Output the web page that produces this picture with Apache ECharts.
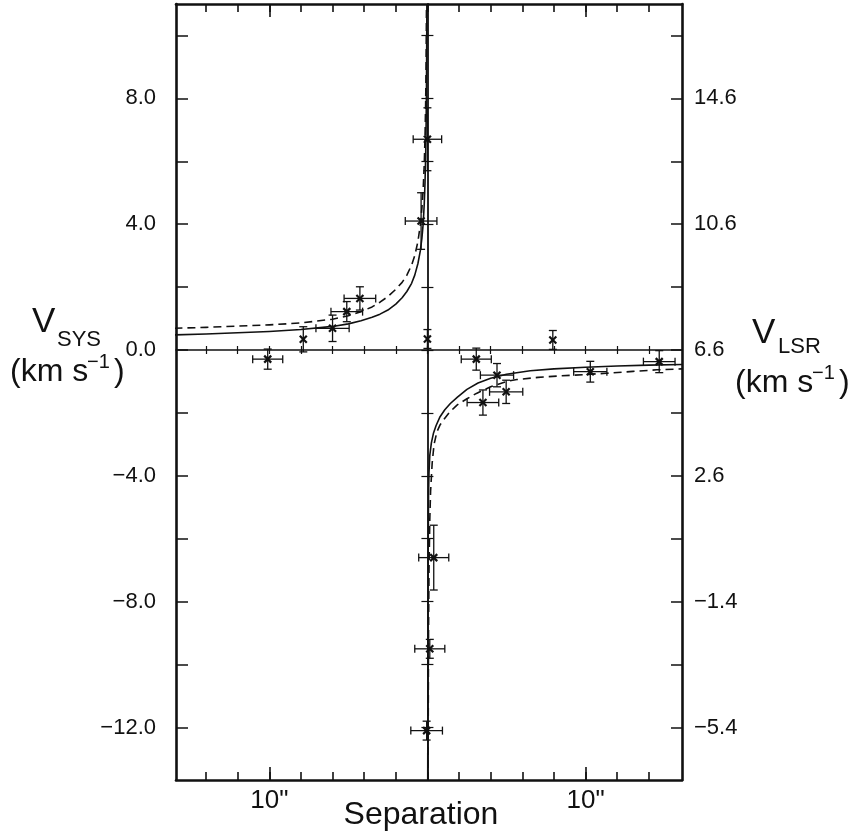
<!DOCTYPE html>
<html>
<head>
<meta charset="utf-8">
<script src="https://cdn.jsdelivr.net/npm/echarts@6/dist/echarts.min.js"></script>
<style>
  html, body { margin: 0; padding: 0; background: #fff; }
  #chart { width: 856px; height: 838px; }
</style>
</head>
<body>
<div id="chart"></div>
<script>
// Measured spots: separation (arcsec), systemic velocity (km/s) and their errors
const spotSep    = [-10.1, -7.85, -6.0, -5.1, -4.27, 0.0, -0.4, 0.0, 3.09, 4.4, 4.98, 3.51, 7.93, 10.3, 14.66, 0.4, 0.15, -0.05];
const spotVel    = [-0.29, 0.34, 0.69, 1.22, 1.64, 0.35, 4.1, 6.7, -0.29, -0.8, -1.33, -1.67, 0.32, -0.69, -0.37, -6.6, -9.5, -12.1];
const spotSepErr = [0.95, 0, 1.05, 1.0, 1.0, 0, 1.0, 0.9, 0.95, 1.05, 1.05, 1.0, 0, 1.05, 1.0, 0.95, 0.95, 1.0];
const spotVelErr = [0.32, 0.40, 0.42, 0.32, 0.37, 0.30, 0.9, 1.0, 0.35, 0.37, 0.37, 0.40, 0.30, 0.33, 0.35, 1.03, 0.3, 0.3];

// Rotation-curve fit (solid): approaching branch
const solidUpperSep = [-16, -14, -12, -10, -8, -6, -5, -4.2, -3.5, -3, -2.5, -2, -1.6, -1.3, -1.0, -0.8, -0.6, -0.45, -0.35, -0.27, -0.2, -0.15, -0.11, -0.08, -0.06, -0.045, -0.035];
const solidUpperVel = [0.48, 0.51, 0.55, 0.59, 0.65, 0.75, 0.83, 0.93, 1.04, 1.14, 1.27, 1.46, 1.66, 1.86, 2.12, 2.38, 2.75, 3.15, 3.55, 4.0, 4.65, 5.35, 6.2, 7.3, 8.4, 9.7, 11.0];
// Rotation-curve fit (solid): receding branch
const solidLowerSep = [0.02, 0.04, 0.07, 0.1, 0.15, 0.25, 0.38, 0.55, 0.8, 1.1, 1.45, 1.9, 2.5, 3.2, 4.0, 5.0, 6.5, 8, 10, 12, 14, 16.1];
const solidLowerVel = [-13.7, -7.0, -4.6, -3.9, -3.35, -2.95, -2.65, -2.4, -2.12, -1.9, -1.7, -1.5, -1.25, -1.05, -0.9, -0.77, -0.66, -0.6, -0.55, -0.51, -0.48, -0.46];

// Rotation-curve fit (dashed)
const dashUpperSep = [-16, -14, -12, -10, -8, -6, -5, -4.2, -3.5, -3, -2.5, -2, -1.6, -1.3, -1.0, -0.8, -0.6, -0.45, -0.35, -0.27, -0.2, -0.15, -0.11, -0.08, -0.06];
const dashUpperVel = [0.69, 0.72, 0.76, 0.80, 0.86, 0.98, 1.09, 1.22, 1.37, 1.52, 1.70, 1.93, 2.15, 2.38, 2.7, 3.0, 3.45, 3.98, 4.5, 5.1, 5.9, 6.8, 7.9, 9.3, 10.9];
const dashLowerSep = [0.04, 0.07, 0.1, 0.15, 0.2, 0.3, 0.42, 0.6, 0.8, 1.05, 1.4, 1.87, 2.5, 3.1, 4.0, 5.0, 5.66, 7, 8.5, 10, 11.3, 13, 14.5, 16.1];
const dashLowerVel = [-13.7, -9.0, -7.0, -5.4, -4.5, -3.6, -3.0, -2.6, -2.38, -2.2, -1.98, -1.75, -1.55, -1.38, -1.17, -1.0, -0.94, -0.87, -0.82, -0.78, -0.74, -0.68, -0.63, -0.6];

// Axis extents and tick marks
const sepMin = -15.9, sepMax = 16.1;
const velMin = -13.67, velMax = 11.0;
const sepTicks = [-14, -12, -10, -8, -6, -4, -2, 0, 2, 4, 6, 8, 10, 12, 14];
const sepLabelValues = [-10, 10];
const sepLabels = ['10"', '10"'];
const velTicks = [-12, -10, -8, -6, -4, -2, 0, 2, 4, 6, 8, 10];
const velLabelValues = [8, 4, 0, -4, -8, -12];
const sysLabels = ['8.0', '4.0', '0.0', '\u22124.0', '\u22128.0', '\u221212.0'];
const lsrLabels = ['14.6', '10.6', '6.6', '2.6', '\u22121.4', '\u22125.4'];

const ink = '#111';
const fontFamily = '"Liberation Sans", Arial, Helvetica, sans-serif';

function pick(values, labels) {
  return function (v) {
    for (let i = 0; i < values.length; i++) {
      if (Math.abs(values[i] - v) < 1e-6) return labels[i];
    }
    return '';
  };
}
function zip(a, b) { return a.map((x, i) => [x, b[i]]); }

const plotRect = { left: 176, right: 174, top: 4, bottom: 58 };
const grids = [];
for (let i = 0; i < 6; i++) {
  grids.push(Object.assign({ containLabel: false, outerBoundsMode: 'none' }, plotRect));
}

const noLine = { show: false };
function hiddenY(gridIndex) {
  return {
    type: 'value', gridIndex, min: velMin, max: velMax,
    axisLine: noLine, axisTick: noLine, axisLabel: noLine, splitLine: noLine
  };
}

const frameLine = { show: true, onZero: false, lineStyle: { color: ink, width: 2.6 } };

const xAxes = [
  { // bottom frame with labels
    type: 'value', gridIndex: 0, position: 'bottom', min: sepMin, max: sepMax,
    axisLine: frameLine,
    axisTick: { show: true, inside: true, length: 8, customValues: sepTicks, lineStyle: { color: ink, width: 1.6 } },
    axisLabel: { show: true, customValues: sepLabelValues, formatter: pick(sepLabelValues, sepLabels),
      color: ink, fontFamily, fontSize: 26, margin: 8 },
    splitLine: noLine
  },
  { // top frame
    type: 'value', gridIndex: 1, position: 'top', min: sepMin, max: sepMax,
    axisLine: frameLine,
    axisTick: { show: true, inside: true, length: 8, customValues: sepTicks, lineStyle: { color: ink, width: 1.6 } },
    axisLabel: noLine, splitLine: noLine
  },
  { // longer marks at 10" (bottom)
    type: 'value', gridIndex: 2, position: 'bottom', min: sepMin, max: sepMax,
    axisLine: { show: false, onZero: false },
    axisTick: { show: true, inside: true, length: 13, customValues: sepLabelValues, lineStyle: { color: ink, width: 1.6 } },
    axisLabel: noLine, splitLine: noLine
  },
  { // longer marks at 10" (top)
    type: 'value', gridIndex: 3, position: 'top', min: sepMin, max: sepMax,
    axisLine: { show: false, onZero: false },
    axisTick: { show: true, inside: true, length: 13, customValues: sepLabelValues, lineStyle: { color: ink, width: 1.6 } },
    axisLabel: noLine, splitLine: noLine
  },
  { // zero-velocity line, marks above
    type: 'value', gridIndex: 4, min: sepMin, max: sepMax,
    axisLine: { show: true, onZero: true, lineStyle: { color: ink, width: 1.5 } },
    axisTick: { show: true, inside: true, length: 4, customValues: sepTicks, lineStyle: { color: ink, width: 1.2 } },
    axisLabel: noLine, splitLine: noLine
  },
  { // zero-velocity line, marks below
    type: 'value', gridIndex: 5, min: sepMin, max: sepMax,
    axisLine: { show: false, onZero: true },
    axisTick: { show: true, inside: false, length: 4, customValues: sepTicks, lineStyle: { color: ink, width: 1.2 } },
    axisLabel: noLine, splitLine: noLine
  }
];

const velLabelStyle = {
  show: true, customValues: velLabelValues, color: ink, fontFamily, fontSize: 22,
  backgroundColor: 'rgba(255,255,255,0)', padding: [7, 0, 0, 0]
};

const yAxes = [
  { // left frame with V_SYS labels
    type: 'value', gridIndex: 0, position: 'left', min: velMin, max: velMax,
    axisLine: frameLine,
    axisTick: { show: true, inside: true, length: 12, customValues: velTicks, lineStyle: { color: ink, width: 1.5 } },
    axisLabel: Object.assign({}, velLabelStyle, { formatter: pick(velLabelValues, sysLabels), margin: 20 }),
    splitLine: noLine
  },
  { // right frame with V_LSR labels
    type: 'value', gridIndex: 1, position: 'right', min: velMin, max: velMax,
    axisLine: frameLine,
    axisTick: { show: true, inside: true, length: 11, customValues: velTicks, lineStyle: { color: ink, width: 1.5 } },
    axisLabel: Object.assign({}, velLabelStyle, { formatter: pick(velLabelValues, lsrLabels), margin: 12 }),
    splitLine: noLine
  },
  hiddenY(2),
  hiddenY(3),
  { // zero-separation line, marks to the right
    type: 'value', gridIndex: 4, min: velMin, max: velMax,
    axisLine: { show: true, onZero: true, lineStyle: { color: ink, width: 1.8 } },
    axisTick: { show: true, inside: true, length: 6, customValues: velTicks, lineStyle: { color: ink, width: 1.2 } },
    axisLabel: noLine, splitLine: noLine
  },
  { // zero-separation line, marks to the left
    type: 'value', gridIndex: 5, min: velMin, max: velMax,
    axisLine: { show: false, onZero: true },
    axisTick: { show: true, inside: false, length: 6, customValues: velTicks, lineStyle: { color: ink, width: 1.2 } },
    axisLabel: noLine, splitLine: noLine
  }
];

function curve(sep, vel, dashed) {
  return {
    type: 'line', xAxisIndex: 0, yAxisIndex: 0,
    data: zip(sep, vel), showSymbol: false, symbol: 'none',
    smooth: false, clip: true, silent: true,
    lineStyle: { color: ink, width: 1.6, type: dashed ? [8, 5] : 'solid', join: 'round' },
    z: 3
  };
}

const spots = spotSep.map((s, i) => [s, spotVel[i], spotSepErr[i], spotVelErr[i]]);

const barStyle = { stroke: ink, lineWidth: 1.3 };
const markStyle = { stroke: ink, lineWidth: 2.2 };

function renderSpot(params, api) {
  const s = api.value(0), v = api.value(1), es = api.value(2), ev = api.value(3);
  const c = api.coord([s, v]);
  const kids = [];
  const cap = 4;
  if (es > 0) {
    const l = api.coord([s - es, v])[0], r = api.coord([s + es, v])[0];
    kids.push({ type: 'line', shape: { x1: l, y1: c[1], x2: r, y2: c[1] }, style: barStyle });
    kids.push({ type: 'line', shape: { x1: l, y1: c[1] - cap, x2: l, y2: c[1] + cap }, style: barStyle });
    kids.push({ type: 'line', shape: { x1: r, y1: c[1] - cap, x2: r, y2: c[1] + cap }, style: barStyle });
  }
  if (ev > 0) {
    const t = api.coord([s, v + ev])[1], b = api.coord([s, v - ev])[1];
    kids.push({ type: 'line', shape: { x1: c[0], y1: t, x2: c[0], y2: b }, style: barStyle });
    kids.push({ type: 'line', shape: { x1: c[0] - cap, y1: t, x2: c[0] + cap, y2: t }, style: barStyle });
    kids.push({ type: 'line', shape: { x1: c[0] - cap, y1: b, x2: c[0] + cap, y2: b }, style: barStyle });
  }
  const m = 3.5;
  kids.push({ type: 'line', shape: { x1: c[0] - m, y1: c[1] - m, x2: c[0] + m, y2: c[1] + m }, style: markStyle });
  kids.push({ type: 'line', shape: { x1: c[0] - m, y1: c[1] + m, x2: c[0] + m, y2: c[1] - m }, style: markStyle });
  return { type: 'group', children: kids };
}

function txt(text, left, top, size) {
  return {
    type: 'text', left, top, silent: true,
    style: { text, fill: ink, font: size + 'px ' + fontFamily }
  };
}

const option = {
  backgroundColor: '#fff',
  animation: false,
  grid: grids,
  xAxis: xAxes,
  yAxis: yAxes,
  series: [
    curve(solidUpperSep, solidUpperVel, false),
    curve(solidLowerSep, solidLowerVel, false),
    curve(dashUpperSep, dashUpperVel, true),
    curve(dashLowerSep, dashLowerVel, true),
    {
      type: 'custom', xAxisIndex: 0, yAxisIndex: 0, clip: true, silent: true,
      data: spots, renderItem: renderSpot, z: 4
    }
  ],
  graphic: [
    // axis title under the plot
    {
      type: 'text', x: 421, y: 815, silent: true,
      style: { text: 'Separation', fill: ink, font: '32px ' + fontFamily, align: 'center', verticalAlign: 'middle' }
    },
    // V_SYS (km s^-1)
    txt('V', 32, 305, 35),
    txt('SYS', 57, 329, 22),
    txt('(km s', 10, 356, 32),
    txt('\u22121', 87, 352, 20),
    txt(')', 114, 356, 32),
    // V_LSR (km s^-1)
    txt('V', 752, 316, 35),
    txt('LSR', 778, 336, 22),
    txt('(km s', 735, 367, 32),
    txt('\u22121', 812, 363, 20),
    txt(')', 839, 367, 32)
  ]
};

const chart = echarts.init(document.getElementById('chart'), null, { renderer: 'canvas' });
chart.setOption(option);
</script>
</body>
</html>
